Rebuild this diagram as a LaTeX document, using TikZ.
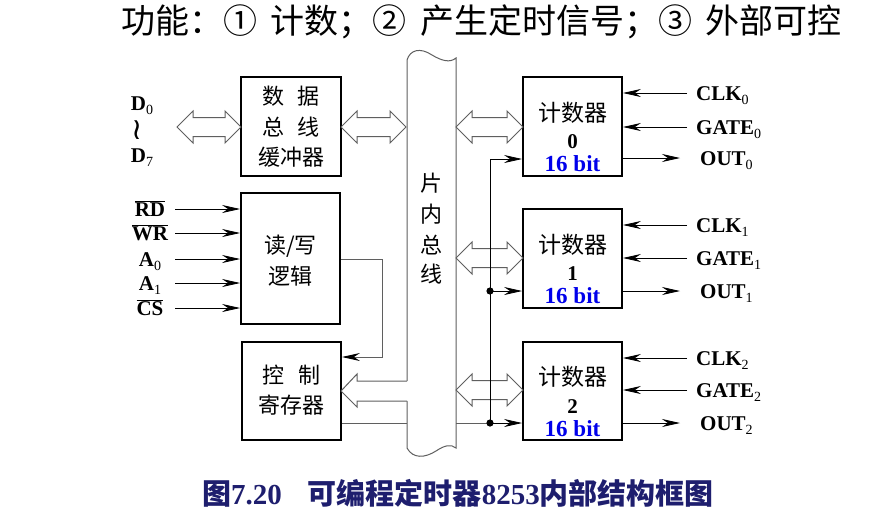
\documentclass[tikz,border=0pt]{standalone}
\usepackage{fontspec}
\setmainfont{Liberation Serif}
\newfontfamily\cjk{Noto Sans CJK SC}
\newfontfamily\dejavu{DejaVu Sans}
\usetikzlibrary{arrows.meta}
\definecolor{busgray}{RGB}{95,95,95}
\definecolor{capblue}{RGB}{30,30,110}
\definecolor{bitblue}{RGB}{0,0,235}
\newcommand{\sbs}[1]{\raisebox{-0.22em}{\fontsize{14}{14}\selectfont\mdseries #1}}
\newcommand{\ovl}[1]{$\overline{\hbox{\bfseries #1}}$}
\newcommand{\dbla}[3]{%
  \draw[hollow] (#1,#3) -- ({#1+16},{#3-16}) -- ({#1+16},{#3-9.5}) -- ({#2-16},{#3-9.5}) -- ({#2-16},{#3-16}) -- (#2,#3) -- ({#2-16},{#3+16}) -- ({#2-16},{#3+9.5}) -- ({#1+16},{#3+9.5}) -- ({#1+16},{#3+16}) -- cycle;}
\begin{document}
\begin{tikzpicture}[x=1pt,y=-1pt,
  blk/.style={draw=black, line width=1.8pt, fill=white, inner sep=0pt},
  lbl/.style={font=\fontsize{21}{21}\selectfont\bfseries, inner sep=0pt},
  cn/.style={font=\cjk\fontsize{22}{22}\selectfont, inner sep=0pt},
  sig/.style={line width=0.8pt, -{Stealth[length=18pt,width=8pt,inset=6pt]}},
  grayline/.style={draw=busgray, line width=1pt},
  hollow/.style={draw=busgray, line width=1pt, fill=white},
]
\useasboundingbox (0,0) rectangle (894,509);

% title
\node[font=\cjk\fontsize{34}{34}\selectfont, inner sep=0pt] (title) at (481.5,22)
  {功能：①\hspace{0.4em}计数；②\hspace{0.4em}产生定时信号；③\hspace{0.4em}外部可控};

% internal bus
\draw[draw=busgray, line width=1pt, fill=white]
  (407,60) .. controls (410,50) and (420,47) .. (432,55)
  .. controls (442,61) and (450,63) .. (456,58)
  -- (456,448) .. controls (451,444) and (445,445) .. (436,451)
  .. controls (425,458) and (413,459) .. (407,448) -- cycle;
\node[cn] (b1) at (431.5,183) {片};
\node[cn] (b2) at (431.5,214) {内};
\node[cn] (b3) at (431.5,245) {总};
\node[cn] (b4) at (431.5,274) {线};

% boxes
\node[blk, minimum width=100pt, minimum height=99pt] (buf) at (291,126.5) {};
\node[blk, minimum width=99pt, minimum height=131pt] (rw) at (290.5,258.5) {};
\node[blk, minimum width=99pt, minimum height=98pt] (ctl) at (291.5,391) {};
\node[blk, minimum width=99pt, minimum height=99pt] (c0) at (572.5,126.5) {};
\node[blk, minimum width=99pt, minimum height=99pt] (c1) at (572.5,258.5) {};
\node[blk, minimum width=99pt, minimum height=98pt] (c2) at (572.5,391) {};

% box texts
\node[cn] (buft1) at (291,96) {数\hspace{0.6em}据};
\node[cn] (buft2) at (291,127) {总\hspace{0.6em}线};
\node[cn] (buft3) at (291,157) {缓冲器};
\node[cn] (rwt1) at (290.5,246) {读/写};
\node[cn] (rwt2) at (290.5,276) {逻辑};
\node[cn] (ctlt1) at (291.5,375) {控\hspace{0.6em}制};
\node[cn] (ctlt2) at (291.5,405) {寄存器};
\foreach \n/\y/\d in {0/126.5/0, 1/258.5/1, 2/391/2}{
  \node[cn, font=\cjk\fontsize{23}{23}\selectfont] (cnt\n) at (572.5,\y-14) {计数器};
  \node[lbl] (num\n) at (572.5,\y+15.5) {\d};
  \node[lbl, font=\fontsize{23}{23}\selectfont\bfseries, text=bitblue] (bit\n) at (572.5,\y+37.5) {16 bit};
}

% left data labels
\node[lbl, anchor=base] (d0) at (142,110) {D\sbs{0}};
\node[inner sep=0pt, font=\dejavu\fontsize{30}{30}\selectfont] (tl) at (137,130) {≀};
\node[lbl, anchor=base] (d7) at (142,162) {D\sbs{7}};

% hollow arrows
\dbla{177}{241}{127}
\dbla{341}{406}{127}
\dbla{456}{523}{127}
\dbla{456}{523}{258}
\dbla{456}{523}{390}
\fill[white] (341,391) -- (357,374) -- (357,381) -- (408.5,381) -- (408.5,401) -- (357,401) -- (357,407) -- cycle;
\draw[hollow, fill=none] (407,381) -- (357,381) -- (357,374) -- (341,391) -- (357,407) -- (357,401) -- (407,401);

% control inputs
\foreach \nm/\t/\y in {rd/{\ovl{RD}}/209, wr/{\ovl{WR}}/233, a0/{A\sbs{0}}/259, a1/{A\sbs{1}}/283, cs/{\ovl{CS}}/308}{
  \node[lbl, anchor=base] (\nm) at (150,\y+7) {\t};
  \coordinate (\nm s) at (175,\y);
  \draw[sig] (\nm s) -- (\nm s -| rw.west);
}

% rw -> control register
\coordinate (rwo) at (382,259);
\draw[grayline, -{Stealth[length=18pt,width=8pt,inset=6pt,color=black]}] (rwo -| rw.east) -- (rwo) -- (382,357) -- (382,357 -| ctl.east);

% bottom line
\coordinate (dot2) at (490,423);
\coordinate (dot1) at (490,291);
\coordinate (top0) at (490,159);
\draw[grayline] (ctl.east |- dot2) -- (407,423);
\draw[grayline] (456,423) -- (dot2);
\draw[line width=0.8pt] (top0) -- (dot2);
\draw[sig] (top0) -- (top0 -| c0.west);
\draw[sig] (dot1) -- (dot1 -| c1.west);
\draw[sig] (dot2) -- (dot2 -| c2.west);
\fill (dot1) circle (3.6);
\fill (dot2) circle (3.6);

% right signals
\foreach \n/\yc/\yg/\yo in {0/93/127/158, 1/225/258/291, 2/358/390/423}{
  \node[lbl, anchor=base west] (clk\n) at (696,\yc+7) {CLK\sbs{\n}};
  \node[lbl, anchor=base west] (gate\n) at (696,\yg+7) {GATE\sbs{\n}};
  \node[lbl, anchor=base west] (out\n) at (700,\yo+7) {OUT\sbs{\n}};
  \coordinate (clks\n) at (687,\yc);
  \coordinate (gates\n) at (687,\yg);
  \coordinate (oute\n) at (680,\yo);
  \draw[sig] (clks\n) -- (clks\n -| c\n.east);
  \draw[sig] (gates\n) -- (gates\n -| c\n.east);
  \draw[sig] (oute\n -| c\n.east) -- (oute\n);
}

% caption
\node[font=\cjk\bfseries\fontsize{29}{29}\selectfont, text=capblue, inner sep=0pt] (cap) at (458,493)
  {图{\rmfamily\bfseries 7.20}\hspace{0.9em}可编程定时器{\rmfamily\bfseries 8253}内部结构框图};
\end{tikzpicture}
\end{document}
